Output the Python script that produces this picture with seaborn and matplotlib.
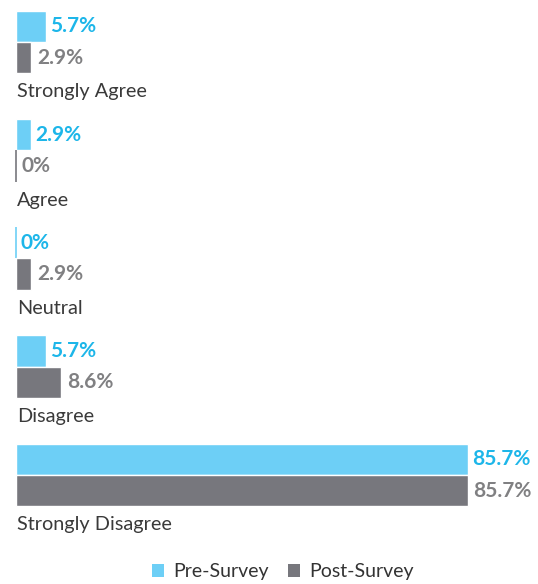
import matplotlib
matplotlib.use("Agg")
import matplotlib.pyplot as plt
from matplotlib.patches import Patch
import seaborn as sns
import pandas as pd

# Survey responses (% of respondents)
responses = ["Strongly Agree", "Agree", "Neutral", "Disagree", "Strongly Disagree"]
pre_survey = [5.7, 2.9, 0.0, 5.7, 85.7]
post_survey = [2.9, 0.0, 2.9, 8.6, 85.7]
series = ["Pre-Survey", "Post-Survey"]

bar_colors = {"Pre-Survey": "#6DCFF6", "Post-Survey": "#77777D"}
text_colors = {"Pre-Survey": "#1DB6E9", "Post-Survey": "#808082"}

df = pd.DataFrame({
    "response": responses * 2,
    "pct": pre_survey + post_survey,
    "survey": [series[0]] * len(responses) + [series[1]] * len(responses),
})

sns.set_style("white")
plt.rcParams["font.family"] = ["Lato", "DejaVu Sans"]

fig = plt.figure(figsize=(5.38, 5.84), dpi=100)
ax = fig.add_axes([0, 0, 1, 1])

sns.barplot(data=df, y="response", x="pct", hue="survey", order=responses,
            hue_order=series, palette=bar_colors, orient="h", width=0.58,
            saturation=1, dodge=True, legend=False, ax=ax)

# zero-valued bars still show as a hairline
for patch in ax.patches:
    if patch.get_width() == 0:
        patch.set_edgecolor(patch.get_facecolor())
        patch.set_linewidth(1.2)

for container, name, pad in zip(ax.containers, series, (3, 4)):
    labels = [f"{v:g}%" for v in container.datavalues]
    ax.bar_label(container, labels=labels, padding=pad, color=text_colors[name],
                 fontsize=15, fontweight="bold")

for i, name in enumerate(responses):
    ax.text(0.2, i + 0.46, name, ha="left", va="center", fontsize=14.3,
            fontweight="normal", color="#3A3A3A")

ax.set_xlim(-3.03, 98.97)
ax.set_ylim(5.007, -0.388)
ax.axis("off")

handles = [Patch(facecolor=bar_colors[s], edgecolor="none", label=s) for s in series]
fig.legend(handles=handles, loc="center", bbox_to_anchor=(0.526, 0.021), ncol=2,
           frameon=False, fontsize=14, handlelength=0.6, handleheight=0.6,
           handletextpad=0.5, columnspacing=1.0, labelcolor="#333333")

fig.savefig("out.png", dpi=100)
